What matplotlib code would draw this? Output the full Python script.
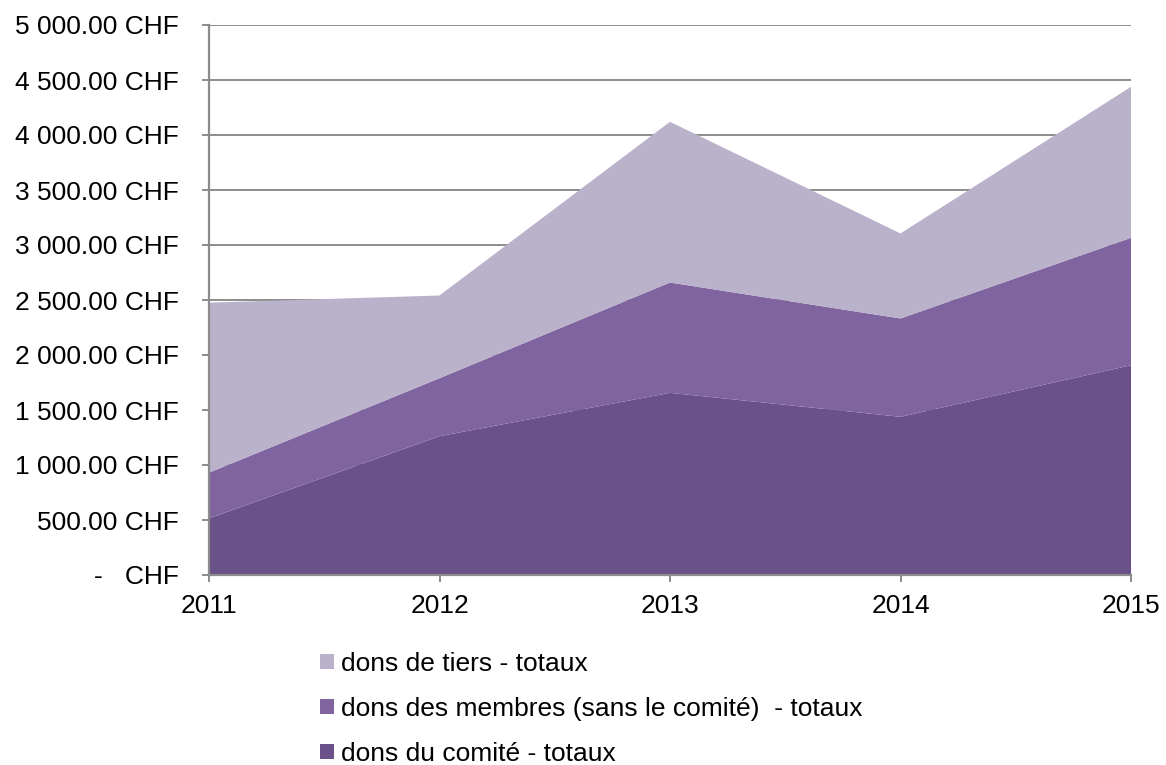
import matplotlib

matplotlib.use("Agg")
import matplotlib.pyplot as plt
from matplotlib.patches import Patch

plt.rcParams["font.family"] = ["Liberation Sans", "DejaVu Sans"]

years = [2011, 2012, 2013, 2014, 2015]
comite = [515, 1262, 1656, 1438, 1907]
membres = [415, 527, 1003, 894, 1158]
tiers = [1546, 752, 1461, 773, 1373]

labels = [
    "dons du comité - totaux",
    "dons des membres (sans le comité)  - totaux",
    "dons de tiers - totaux",
]
colors = ["#6A5189", "#8064A0", "#BAB1CB"]

yticks = list(range(0, 5001, 500))


def chf(v):
    if v == 0:
        return "-   CHF"
    return f"{v:,.2f}".replace(",", " ") + " CHF"


fig = plt.figure(figsize=(11.66, 7.65), dpi=100)
ax = fig.add_axes([209 / 1166, 1 - 575 / 765, (1131 - 209) / 1166, 550 / 765])

ax.stackplot(years, comite, membres, tiers, colors=colors, linewidth=0, zorder=2)

ax.set_xlim(years[0], years[-1])
ax.set_ylim(0, 5000)
ax.set_xticks(years)
ax.set_xticklabels([str(y) for y in years])
ax.set_yticks(yticks)
ax.set_yticklabels([chf(v) for v in yticks])

ax.grid(axis="y", color="#8c8c8c", linewidth=1.4, zorder=1)
ax.set_axisbelow(True)
for side in ("top", "right"):
    ax.spines[side].set_visible(False)
for side in ("left", "bottom"):
    ax.spines[side].set_color("#8c8c8c")
    ax.spines[side].set_linewidth(1.6)
    ax.spines[side].set_zorder(3)

ax.tick_params(axis="both", colors="#8c8c8c", length=5, width=1.4,
               labelsize=19, labelcolor="black")
ax.tick_params(axis="y", pad=17)
ax.tick_params(axis="x", pad=9)

handles = [Patch(facecolor=c, edgecolor="none") for c in colors][::-1]
fig.legend(handles, labels[::-1], loc="upper left",
           bbox_to_anchor=(320 / 1166, 1 - 652 / 765), frameon=False,
           fontsize=19, handlelength=0.53, handleheight=0.53,
           handletextpad=0.25, labelspacing=0.79, borderaxespad=0,
           borderpad=0)

fig.savefig("out.png", dpi=100)
